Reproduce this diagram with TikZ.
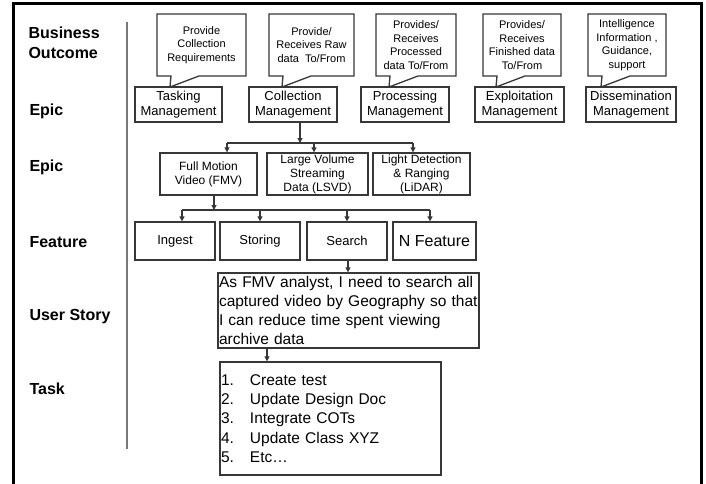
\documentclass[tikz,border=0pt]{standalone}
\usepackage{fontspec}
\setmainfont{Liberation Sans}
\usetikzlibrary{arrows.meta,shapes.callouts}
\definecolor{boxgray}{RGB}{55,55,55}
\definecolor{rulegray}{RGB}{120,120,120}
\newcommand\fsz[2]{\fontsize{#1}{#2}\selectfont}
\begin{document}
\begin{tikzpicture}[x=1pt,y=-1pt,
  box/.style={draw=boxgray, line width=1.3pt, inner sep=1pt, align=center},
  bubble/.style={box, rectangle callout, callout pointer width=28pt,
    minimum height=62pt, font=\fsz{11}{13.5}},
  epicbox/.style={box, minimum height=35pt, font=\fsz{13}{15.5}},
  subbox/.style={box, minimum height=42pt, font=\fsz{12}{14}},
  featbox/.style={box, minimum height=38pt, minimum width=80pt, font=\fsz{13}{15}},
  level/.style={anchor=west, align=left, font=\bfseries\fsz{16}{20}},
  link/.style={draw=boxgray, line width=1.1pt},
  arr/.style={link, -{Triangle[length=5pt,width=5pt]}}]

\useasboundingbox (0,0) rectangle (706,484);
\fill[white] (0,0) rectangle (706,484);

% outer frame (open at the bottom edge of the page)
\draw[line width=3pt, black] (13,490) -- (13,4) -- (701,4) -- (701,490);

% separator between level names and content
\draw[rulegray, line width=1.3pt] (127,22) -- (127,449);

% level names
\node[level] (lbiz) at (25,43) {Business\\Outcome};
\node[level] (lepic1) at (26,111) {Epic};
\node[level] (lepic2) at (26,167) {Epic};
\node[level] (lfeat) at (26,242) {Feature};
\node[level] (lstory) at (26,317) {User Story};
\node[level] (ltask) at (26,389) {Task};

% epic boxes
\node[epicbox, minimum width=87pt] (task) at (178.5,104.5) {Tasking\\Management};
\node[epicbox, minimum width=88pt] (coll) at (293,104.5) {Collection\\Management};
\node[epicbox, minimum width=88pt] (proc) at (405,104.5) {Processing\\Management};
\node[epicbox, minimum width=89pt] (expl) at (519.5,104.5) {Exploitation\\Management};
\node[epicbox, minimum width=90pt] (diss) at (631,104.5) {Dissemination\\Management};

% tips of the speech bubbles
\coordinate (t1) at (170,87);
\coordinate (t2) at (282,87);
\coordinate (t3) at (389,87);
\coordinate (t4) at (496,87);
\coordinate (t5) at (601,87);

% business outcome bubbles
\node[bubble, minimum width=89pt, callout absolute pointer={(t1)}] (b1) at (201.5,45)
  {Provide\\Collection\\Requirements};
\node[bubble, minimum width=85pt, callout absolute pointer={(t2)}] (b2) at (311.5,45)
  {Provide/\\Receives Raw\\data\ \ To/From};
\node[bubble, minimum width=80pt, callout absolute pointer={(t3)}] (b3) at (416,45)
  {Provides/\\Receives\\Processed\\data To/From};
\node[bubble, minimum width=78pt, callout absolute pointer={(t4)}] (b4) at (522,45)
  {Provides/\\Receives\\Finished data\\To/From};
\node[bubble, minimum width=78pt, callout absolute pointer={(t5)}] (b5) at (627,45)
  {Intelligence\\Information ,\\Guidance,\\support};

% collection sub-epics
\node[subbox, minimum width=97pt] (fmv) at (208.5,174) {Full Motion\\Video (FMV)};
\node[subbox, minimum width=101pt] (lsvd) at (317.5,174) {Large Volume\\Streaming\\Data (LSVD)};
\node[subbox, minimum width=97pt] (lidar) at (421.5,174) {Light Detection\\\& Ranging\\(LiDAR)};

% features
\node[featbox] (ingest) at (175,241) {Ingest};
\node[featbox] (storing) at (260,241) {Storing};
\node[featbox] (search) at (347,241) {Search};
\node[featbox, minimum width=83pt, font=\fsz{16}{18}] (nfeat) at (434.5,241) {N Feature};

% user story
\node[box, minimum width=261pt, minimum height=75pt, text width=259pt, align=left,
  font=\fsz{15.5}{19}] (story) at (348.5,310.5)
  {As FMV analyst, I need to search all\\captured video by Geography so that\\I can reduce time spent viewing\\archive data};

% tasks
\newcommand\tnum[1]{\makebox[29pt][l]{#1}}
\node[box, minimum width=221pt, minimum height=113pt, text width=219pt, align=left,
  font=\fsz{15.5}{19.2}] (tasks) at (330.5,418.5)
  {\tnum{1.}Create test\\\tnum{2.}Update Design Doc\\\tnum{3.}Integrate COTs\\\tnum{4.}Update Class XYZ\\\tnum{5.}Etc\ldots};

% collection -> sub-epics
\coordinate (j1) at (300,143);
\coordinate (j1a) at (227,143);
\coordinate (j1b) at (314,143);
\coordinate (j1c) at (413,143);
\draw[arr] (coll.south -| j1) -- (j1);
\draw[link] (j1a) -- (j1c);
\draw[arr] (j1a) -- (fmv.north -| j1a);
\draw[arr] (j1b) -- (lsvd.north -| j1b);
\draw[arr] (j1c) -- (lidar.north -| j1c);

% FMV -> features
\coordinate (j2) at (214,210);
\coordinate (j2a) at (182,210);
\coordinate (j2b) at (260,210);
\coordinate (j2c) at (347,210);
\coordinate (j2d) at (430,210);
\draw[arr] (fmv.south -| j2) -- (j2);
\draw[link] (j2a) -- (j2d);
\draw[arr] (j2a) -- (ingest.north -| j2a);
\draw[arr] (j2b) -- (storing.north -| j2b);
\draw[arr] (j2c) -- (search.north -| j2c);
\draw[arr] (j2d) -- (nfeat.north -| j2d);

% search -> story -> tasks
\coordinate (s1) at (348,265);
\draw[arr] (search.south -| s1) -- (story.north -| s1);
\coordinate (s2) at (267,355);
\draw[arr] (story.south -| s2) -- (tasks.north -| s2);
\end{tikzpicture}
\end{document}
